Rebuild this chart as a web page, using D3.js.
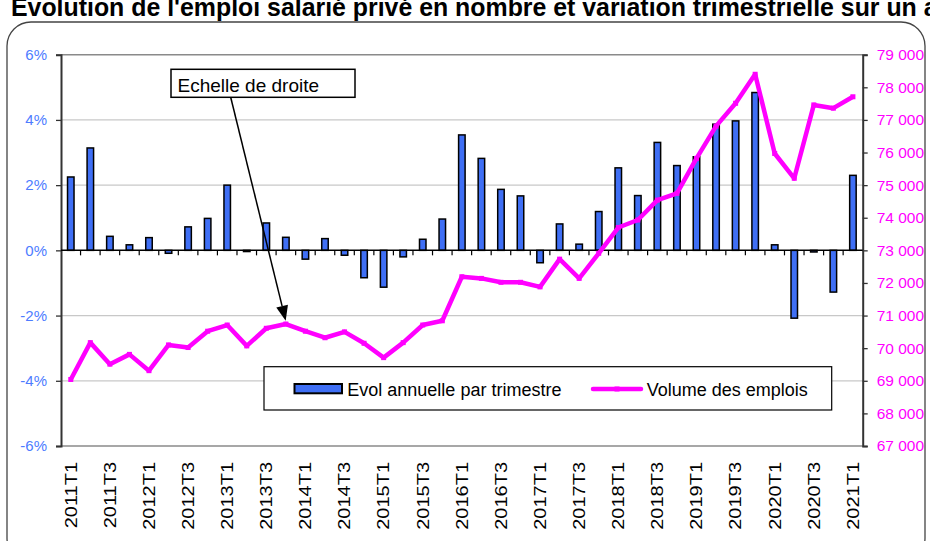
<!DOCTYPE html>
<html><head><meta charset="utf-8">
<script src="https://cdn.jsdelivr.net/npm/d3@7"></script>
<style>body{margin:0;background:#fff}svg{display:block;font-family:"Liberation Sans",Arial,sans-serif}</style>
</head><body>
<svg id="c" width="930" height="541"></svg>
<script>
const quarters = ["2011T1","2011T2","2011T3","2011T4","2012T1","2012T2","2012T3","2012T4","2013T1","2013T2","2013T3","2013T4","2014T1","2014T2","2014T3","2014T4","2015T1","2015T2","2015T3","2015T4","2016T1","2016T2","2016T3","2016T4","2017T1","2017T2","2017T3","2017T4","2018T1","2018T2","2018T3","2018T4","2019T1","2019T2","2019T3","2019T4","2020T1","2020T2","2020T3","2020T4","2021T1"];
const evolAnnuelle = [2.25,3.14,0.43,0.17,0.39,-0.09,0.72,0.98,2.0,-0.03,0.84,0.40,-0.27,0.36,-0.15,-0.84,-1.13,-0.20,0.34,0.96,3.54,2.82,1.87,1.67,-0.38,0.81,0.19,1.19,2.53,1.68,3.31,2.60,2.87,3.87,3.97,4.84,0.17,-2.08,-0.05,-1.28,2.30];
const volumeEmplois = [69040,70170,69510,69810,69310,70100,70020,70520,70710,70070,70610,70740,70520,70320,70500,70150,69710,70170,70710,70840,72190,72140,72020,72020,71880,72730,72140,72910,73700,73930,74540,74750,75820,76810,77510,78400,75970,75210,77460,77360,77710];
const leftTicks = [-6,-4,-2,0,2,4,6];
const rightTicks = [67000,68000,69000,70000,71000,72000,73000,74000,75000,76000,77000,78000,79000];
const labelQuarters = quarters.filter((q,i)=>i%2===0);
const title = "Evolution de l'emploi salarié privé en nombre et variation trimestrielle sur un an";
const seriesNames = ["Evol annuelle par trimestre","Volume des emplois"];
const annotation = "Echelle de droite";

const svg = d3.select("#c");
const L = 61, R = 862.7, T = 54.7, B = 446;
const x = d3.scaleBand().domain(quarters).range([L,R]).padding(0);
const yL = d3.scaleLinear().domain([-6,6]).range([B,T]);
const yR = d3.scaleLinear().domain([67000,79000]).range([B,T]);
const blue = "#3f6ff5", mag = "#ff00ff", leftCol = "#4d7cff";

svg.append("rect").attr("width",930).attr("height",541).attr("fill","#fff");

// title fitted
const tt = svg.append("text").attr("x",11).attr("y",16).attr("font-weight","bold").attr("font-size",18).attr("fill","#000").text(title);
const probe = svg.append("text").attr("font-weight","bold").attr("font-size",18).text("Evolution de l'emploi salarié privé en nombre et variation trimestrielle sur un\u00a0");
const w = probe.node().getComputedTextLength(); probe.remove();
tt.attr("font-size", 18*913/w);

// outer rounded border
svg.append("rect").attr("x",7).attr("y",22).attr("width",918).attr("height",540).attr("rx",24)
  .attr("fill","none").attr("stroke","#444").attr("stroke-width",1.3);

// gridlines
svg.append("g").selectAll("line").data(leftTicks.filter(d=>d!==0 && Math.abs(d)!==6)).join("line")
  .attr("x1",L).attr("x2",R).attr("y1",d=>yL(d)).attr("y2",d=>yL(d)).attr("stroke","#c8c8c8").attr("stroke-width",1.2);
svg.append("line").attr("x1",L).attr("x2",R).attr("y1",T).attr("y2",T).attr("stroke","#8a8a8a").attr("stroke-width",1.6);
svg.append("line").attr("x1",L).attr("x2",R).attr("y1",B).attr("y2",B).attr("stroke","#8a8a8a").attr("stroke-width",1.6);

// left axis
const gl = svg.append("g").attr("transform",`translate(${L},0)`)
  .call(d3.axisLeft(yL).tickValues(leftTicks).tickSize(5).tickPadding(9).tickFormat(d=>d+"%"));
gl.select(".domain").attr("stroke","#333").attr("stroke-width",2);
gl.selectAll(".tick line").attr("stroke","#333").attr("stroke-width",1.3);
gl.selectAll("text").attr("fill",leftCol).attr("font-size",15).attr("font-family","Liberation Sans, Arial, sans-serif");

// right axis
const fmt = d => d3.format(",")(d).replace(/,/g,"\u00a0");
const gr = svg.append("g").attr("transform",`translate(${R},0)`)
  .call(d3.axisRight(yR).tickValues(rightTicks).tickSize(5).tickPadding(9).tickFormat(fmt));
gr.select(".domain").attr("stroke","#333").attr("stroke-width",2);
gr.selectAll(".tick line").attr("stroke","#333").attr("stroke-width",1.3);
gr.selectAll("text").attr("fill",mag).attr("font-size",15.5).attr("font-family","Liberation Sans, Arial, sans-serif");

// bars
const bw = 6.5;
svg.append("g").selectAll("rect").data(evolAnnuelle).join("rect")
  .attr("x",(d,i)=>x(quarters[i])+x.bandwidth()/2-bw/2)
  .attr("width",bw)
  .attr("y",d=>yL(Math.max(0,d)))
  .attr("height",d=>Math.max(1.2,Math.abs(yL(d)-yL(0))))
  .attr("fill",blue).attr("stroke","#000").attr("stroke-width",1.5);

// zero axis with category ticks
const g0 = svg.append("g").attr("transform",`translate(0,${yL(0)})`);
g0.append("line").attr("x1",L).attr("x2",R).attr("stroke","#000").attr("stroke-width",1.5);
g0.selectAll("line.t").data(quarters.slice(1)).join("line").attr("class","t")
  .attr("x1",d=>x(d)).attr("x2",d=>x(d)).attr("y1",0).attr("y2",5).attr("stroke","#000").attr("stroke-width",1.2);

// x labels
svg.append("g").selectAll("text").data(labelQuarters).join("text")
  .attr("transform",d=>`translate(${x(d)+x.bandwidth()/2+5.8},462) rotate(-90) scale(1.25,1)`)
  .attr("text-anchor","end")
  .attr("font-size",16).attr("fill","#000").text(d=>d);

// line
const line = d3.line().x((d,i)=>x(quarters[i])+x.bandwidth()/2).y(d=>yR(d));
svg.append("path").datum(volumeEmplois).attr("d",line).attr("fill","none").attr("stroke",mag)
  .attr("stroke-width",4.5).attr("stroke-linejoin","round");
svg.append("g").selectAll("rect").data(volumeEmplois).join("rect")
  .attr("x",(d,i)=>x(quarters[i])+x.bandwidth()/2-2.5).attr("y",d=>yR(d)-2.5)
  .attr("width",5).attr("height",5).attr("fill",mag);

// annotation
svg.append("rect").attr("x",171).attr("y",69.3).attr("width",184).attr("height",28).attr("fill","#fff").attr("stroke","#000").attr("stroke-width",1.5);
svg.append("text").attr("x",177.5).attr("y",92).attr("font-size",19).attr("fill","#000").text(annotation);
const ax1=230.7, ay1=97.3, ax2=285.7, ay2=320.7;
const ang = Math.atan2(ay2-ay1, ax2-ax1);
const hl = 15, hw = 6;
const bx = ax2 - hl*Math.cos(ang), by = ay2 - hl*Math.sin(ang);
svg.append("line").attr("x1",ax1).attr("y1",ay1).attr("x2",bx).attr("y2",by).attr("stroke","#000").attr("stroke-width",1.5);
svg.append("path").attr("d",`M${ax2},${ay2} L${bx+hw*Math.sin(ang)},${by-hw*Math.cos(ang)} L${bx-hw*Math.sin(ang)},${by+hw*Math.cos(ang)} Z`).attr("fill","#000");

// legend
const lg = svg.append("g");
lg.append("rect").attr("x",264).attr("y",366.7).attr("width",567.7).attr("height",43.3).attr("fill","#fff").attr("stroke","#000").attr("stroke-width",1.2);
lg.append("rect").attr("x",294.5).attr("y",384).attr("width",47.5).attr("height",9.3).attr("fill",blue).attr("stroke","#000").attr("stroke-width",2);
lg.append("text").attr("x",347.3).attr("y",395.5).attr("font-size",18).attr("fill","#000").text(seriesNames[0]);
lg.append("line").attr("x1",593).attr("x2",641).attr("y1",389).attr("y2",389).attr("stroke",mag).attr("stroke-width",4.5).attr("stroke-linecap","round");
lg.append("rect").attr("x",614.5).attr("y",386.5).attr("width",5).attr("height",5).attr("fill",mag);
lg.append("text").attr("x",646.7).attr("y",395.5).attr("font-size",18).attr("fill","#000").text(seriesNames[1]);
</script>
</body></html>
